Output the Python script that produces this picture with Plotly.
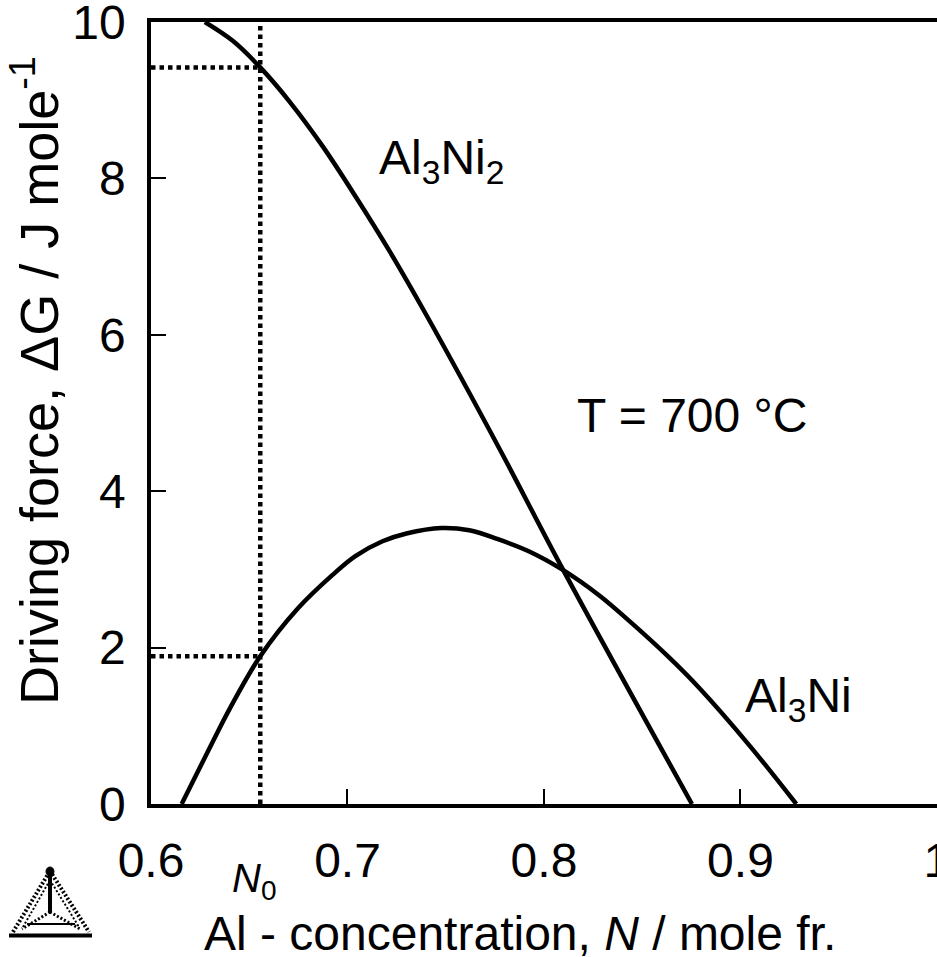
import plotly.graph_objects as go

# Driving force for nucleation of Al3Ni2 and Al3Ni at 700 °C
n_al3ni2 = [0.6274, 0.6416, 0.6556, 0.6706, 0.6874, 0.7046, 0.7214, 0.7402, 0.7772, 0.8092, 0.8753]
dg_al3ni2 = [10.0, 9.76, 9.42, 8.98, 8.41, 7.75, 7.07, 6.25, 4.55, 3.02, 0.0]

n_al3ni = [0.6156, 0.6315, 0.6401, 0.6556, 0.6747, 0.6924, 0.7040, 0.7178, 0.7300, 0.7478,
           0.7620, 0.7762, 0.7925, 0.8092, 0.8280, 0.8448, 0.8626, 0.8788, 0.9042, 0.9284]
dg_al3ni = [0.0, 0.80, 1.22, 1.89, 2.50, 2.93, 3.17, 3.36, 3.46, 3.53,
            3.50, 3.39, 3.23, 3.00, 2.67, 2.31, 1.90, 1.49, 0.76, 0.0]

n0 = 0.6556
dg_n0 = [9.42, 1.89]

x_ticks = [0.6, 0.7, 0.8, 0.9, 1.0]
x_tick_text = ["0.6", "0.7", "0.8", "0.9", "1"]
y_ticks = [0, 2, 4, 6, 8, 10]
y_tick_text = ["0", "2", "4", "6", "8", "10"]

W, H = 937, 957
L, R, T, B = 151, 937, 22, 804
FONT = "Liberation Sans, Arial, sans-serif"


def xp(px):
    return (px - L) / (R - L)


def yp(py):
    return (B - py) / (B - T)


fig = go.Figure()

line = dict(color="black", width=4.5)
dots = dict(color="black", width=4.5, dash="4.5px,4px")

fig.add_trace(go.Scatter(x=n_al3ni2, y=dg_al3ni2, mode="lines",
                         line=dict(shape="spline", smoothing=1.0, **line)))
fig.add_trace(go.Scatter(x=n_al3ni, y=dg_al3ni, mode="lines",
                         line=dict(shape="spline", smoothing=1.0, **line)))

# Guide lines at N0
fig.add_trace(go.Scatter(x=[n0, n0], y=[0, 10], mode="lines", line=dots))
for v in dg_n0:
    fig.add_trace(go.Scatter(x=[0.6, n0], y=[v, v], mode="lines", line=dots))

annotations = [
    dict(x=xp(387), y=yp(159), xref="paper", yref="paper", xanchor="left", yanchor="top",
         text="Al<sub>3</sub>Ni<sub>2</sub>", font=dict(size=48)),
    dict(x=xp(585), y=yp(417), xref="paper", yref="paper", xanchor="left", yanchor="top",
         text="T = 700 °C", font=dict(size=48)),
    dict(x=xp(753), y=yp(697), xref="paper", yref="paper", xanchor="left", yanchor="top",
         text="Al<sub>3</sub>Ni", font=dict(size=48)),
    dict(x=xp(240), y=yp(884), xref="paper", yref="paper", xanchor="left", yanchor="top",
         text="<i>N</i><sub>0</sub>", font=dict(size=40)),
    dict(x=xp(530), y=yp(963), xref="paper", yref="paper", xanchor="center", yanchor="middle",
         text="Al - concentration, <i>N</i> / mole fr.", font=dict(size=48)),
    dict(x=xp(45), y=yp(411), xref="paper", yref="paper", xanchor="center", yanchor="middle",
         text="Driving force, ΔG / J mole<sup>-1</sup>", textangle=-90, font=dict(size=54)),
]

# Program logo in the lower-left corner
def seg(x0, y0, x1, y1, w=2.5, dash=None):
    return dict(type="line", xref="paper", yref="paper",
                x0=xp(x0), y0=yp(y0), x1=xp(x1), y1=yp(y1),
                line=dict(color="black", width=w, dash=dash))

shapes = [
    seg(13, 932, 50, 871, 4, "2px,2px"),
    seg(50, 871, 89, 932, 4, "2px,2px"),
    seg(23, 927, 50, 880, 2, "2px,2px"),
    seg(50, 880, 79, 927, 2, "2px,2px"),
    seg(50, 874, 50, 912, 4),
    seg(50, 912, 22, 929, 3, "2px,2px"),
    seg(50, 912, 80, 929, 3, "2px,2px"),
    seg(27, 924, 75, 924, 2),
    seg(9, 935.5, 92, 935.5, 4),
    dict(type="circle", xref="paper", yref="paper",
         x0=xp(46), y0=yp(867), x1=xp(54), y1=yp(876),
         fillcolor="black", line=dict(color="black", width=1)),
]

fig.update_layout(
    width=W, height=H,
    margin=dict(l=L, r=W - R, t=T, b=H - B, autoexpand=False),
    paper_bgcolor="white", plot_bgcolor="white",
    showlegend=False,
    font=dict(family=FONT, color="black"),
    annotations=annotations,
    shapes=shapes,
)

fig.update_xaxes(
    range=[0.6, 1.00002], tickvals=x_ticks, ticktext=x_tick_text,
    showgrid=False, zeroline=False, automargin=False,
    showline=True, linecolor="black", linewidth=3.5, mirror=True,
    ticks="inside", ticklen=15, tickwidth=2, tickcolor="black",
    tickfont=dict(size=48), ticklabelstandoff=12, ticklabeloverflow="allow",
)
fig.update_yaxes(
    range=[0, 10.0005], tickvals=y_ticks, ticktext=y_tick_text,
    showgrid=False, zeroline=False, automargin=False,
    showline=True, linecolor="black", linewidth=3.5,
    ticks="inside", ticklen=15, tickwidth=2, tickcolor="black",
    tickfont=dict(size=48), ticklabelstandoff=12, ticklabeloverflow="allow",
)

fig.write_html("out.html")
